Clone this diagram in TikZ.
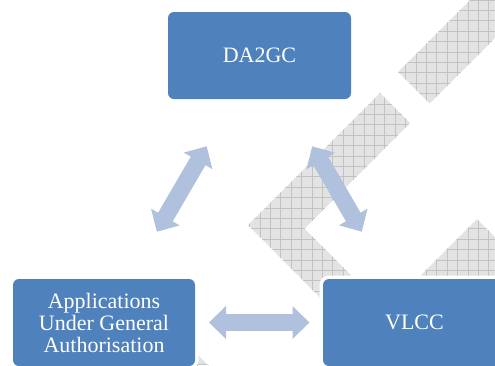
\documentclass[tikz,border=0pt]{standalone}
\usepackage{fontspec}
\setmainfont{Liberation Serif}
\usetikzlibrary{arrows.meta}
\definecolor{boxblue}{HTML}{4F81BD}
\definecolor{linkblue}{HTML}{AFC1DD}
\definecolor{hatchgray}{HTML}{E3E3E3}
\definecolor{hatchline}{HTML}{C2C2C2}

\begin{document}
\begin{tikzpicture}[x=1pt,y=-1pt,
  blockbox/.style={rectangle, rounded corners=6pt, fill=boxblue, text=white,
    minimum width=183pt, minimum height=87pt, inner sep=0pt, align=center,
    font=\fontsize{22pt}{22pt}\selectfont, preaction={draw=white, line width=7pt}},
  linkarrow/.style={draw=linkblue, line width=17pt,
    arrows={Triangle[width=32pt,length=17pt]-Triangle[width=32pt,length=17pt]},
    shorten <=105pt, shorten >=105pt}]
\useasboundingbox (0,0) rectangle (495,365);
\clip (0,0) rectangle (495,365);

% hatched bands behind the cycle
\begin{scope}
\clip (398,72) -- (429.5,103.5) -- (616.5,-83.5) -- (585,-115) -- cycle
  (248,225) -- (380,93) -- (410,123) -- (304.5,228.5) -- (388,312) -- (361,339) -- cycle
  (477,219) -- (529,271) -- (400,400) -- (348,348) -- cycle
  (189,346) -- (220,377) -- (98.5,498.5) -- (67.5,467.5) -- cycle;
\fill [hatchgray] (0,0) rectangle (495,365);
\draw [hatchline, line width=0.8pt, step=10.4pt] (-1,-1) grid (500,370);
\end{scope}

\node [blockbox] (da2gc) at (259.5,55.5) {DA2GC};
\node [blockbox, minimum width=182pt] (apps) at (104,322.5) {Applications\\Under General\\Authorisation};
\node [blockbox] (vlcc) at (414.5,322.5) {VLCC};

\draw [linkarrow] (apps.center) -- (da2gc.center);
\draw [linkarrow] (da2gc.center) -- (vlcc.center);
\draw [linkarrow] (apps.center) -- (vlcc.center);
\end{tikzpicture}
\end{document}
